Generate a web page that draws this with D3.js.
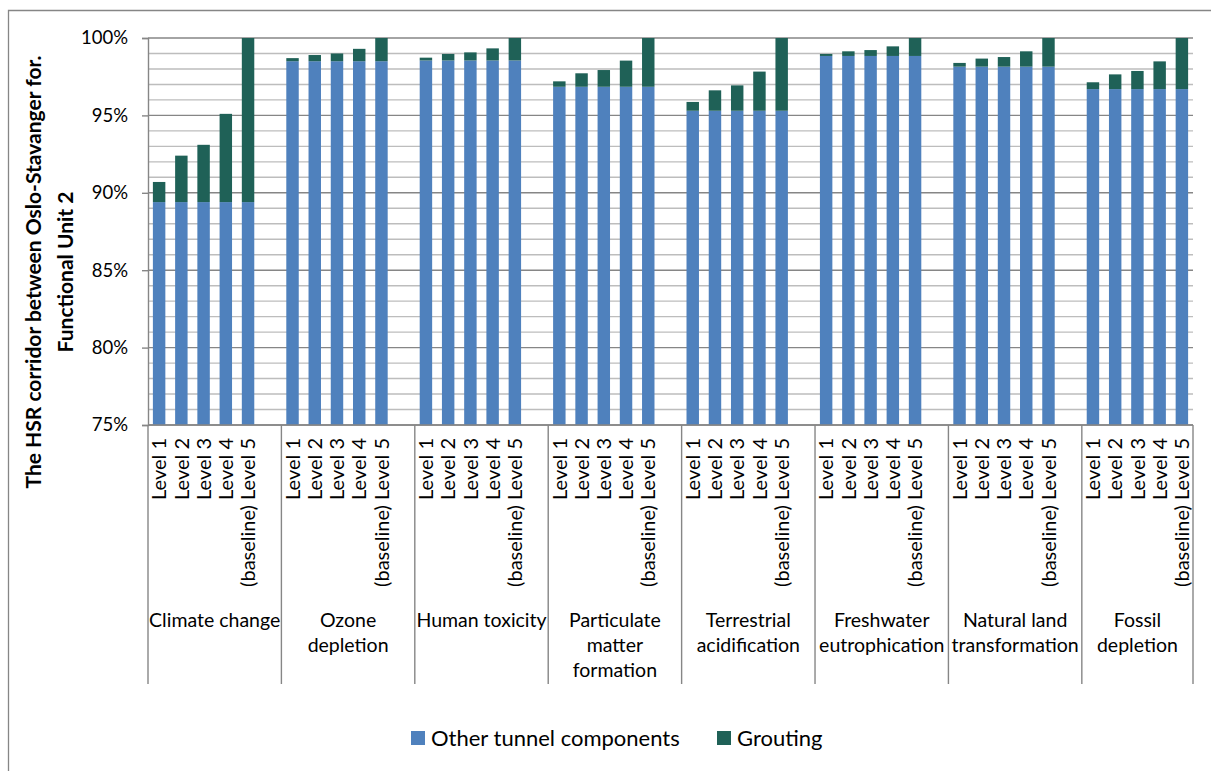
<!DOCTYPE html>
<html>
<head>
<meta charset="utf-8">
<script src="https://cdn.jsdelivr.net/npm/d3@7"></script>
<style>
  html, body { margin: 0; padding: 0; background: #fff; }
  svg { display: block; font-family: Lato, "Open Sans", sans-serif; }
</style>
</head>
<body>
<svg id="chart" width="1211" height="771"></svg>
<script>
// ---- Data ----
const categories = [
  ["Climate change"],
  ["Ozone", "depletion"],
  ["Human toxicity"],
  ["Particulate", "matter", "formation"],
  ["Terrestrial", "acidification"],
  ["Freshwater", "eutrophication"],
  ["Natural land", "transformation"],
  ["Fossil", "depletion"]
];
const levels = ["Level 1", "Level 2", "Level 3", "Level 4", "(baseline) Level 5"];
const seriesNames = ["Other tunnel components", "Grouting"];
// share (%) of other tunnel components, per category and level
const otherValues = [
  [89.4, 89.4, 89.4, 89.4, 89.4],
  [98.5, 98.5, 98.5, 98.5, 98.5],
  [98.55, 98.55, 98.55, 98.55, 98.55],
  [96.85, 96.85, 96.85, 96.85, 96.85],
  [95.3, 95.3, 95.3, 95.3, 95.3],
  [98.84, 98.84, 98.84, 98.84, 98.84],
  [98.15, 98.15, 98.15, 98.15, 98.15],
  [96.7, 96.7, 96.7, 96.7, 96.7]
];
// share (%) of grouting, per category and level
const groutingValues = [
  [1.3, 3.0, 3.7, 5.7, 10.6],
  [0.2, 0.4, 0.5, 0.8, 1.5],
  [0.18, 0.42, 0.52, 0.78, 1.45],
  [0.35, 0.87, 1.08, 1.69, 3.15],
  [0.57, 1.32, 1.64, 2.53, 4.7],
  [0.13, 0.30, 0.38, 0.62, 1.16],
  [0.24, 0.52, 0.62, 0.99, 1.85],
  [0.44, 0.95, 1.17, 1.79, 3.3]
];
const yTicks = [75, 80, 85, 90, 95, 100];
const yTitle = ["The HSR corridor between Oslo-Stavanger for.", "Functional Unit 2"];
const colors = ["#4f81bd", "#1f6157"];

// ---- Layout ----
const svg = d3.select("#chart");
const plot = { left: 148, right: 1193, top: 38, bottom: 425 };
const slotsPerGroup = levels.length + 1;
const nSlots = categories.length * slotsPerGroup - 1;

// build table rows
const rows = [];
categories.forEach((c, g) => {
  levels.forEach((lv, l) => {
    rows.push({ slot: g * slotsPerGroup + l, group: g, level: lv,
      other: otherValues[g][l], grouting: groutingValues[g][l] });
  });
});

const x = d3.scaleBand()
  .domain(d3.range(nSlots))
  .range([plot.left, plot.right])
  .paddingInner(0.44).paddingOuter(0.22);
const y = d3.scaleLinear().domain([75, 100]).range([plot.bottom, plot.top]).clamp(true);
const cellLeft = i => x(i) - x.step() * x.paddingInner() / 2;

// chart border (top and left visible)
svg.append("path")
  .attr("d", `M8.5,771 V10.5 H1211`)
  .attr("fill", "none").attr("stroke", "#868686").attr("stroke-width", 1.3);

// gridlines
const minor = d3.range(76, 101).filter(v => v % 5 !== 0);
svg.append("g").selectAll("line").data(minor).join("line")
  .attr("x1", plot.left).attr("x2", plot.right)
  .attr("y1", d => y(d)).attr("y2", d => y(d))
  .attr("stroke", "#bdbdbd").attr("stroke-width", 1.4);
svg.append("g").selectAll("line").data(yTicks).join("line")
  .attr("x1", plot.left).attr("x2", plot.right)
  .attr("y1", d => y(d)).attr("y2", d => y(d))
  .attr("stroke", "#868686").attr("stroke-width", 1.4);

// stacked bars
const stack = d3.stack().keys(["other", "grouting"]);
const stacked = stack(rows);
svg.append("g").selectAll("g").data(stacked).join("g")
  .attr("fill", (d, i) => colors[i])
  .selectAll("rect").data(d => d).join("rect")
  .attr("x", d => x(d.data.slot))
  .attr("width", x.bandwidth())
  .attr("y", d => y(d[1]))
  .attr("height", d => y(d[0]) - y(d[1]));

// y axis
const yAxis = d3.axisLeft(y).tickValues(yTicks).tickSize(6).tickPadding(14)
  .tickFormat(d => d + "%");
const ya = svg.append("g").attr("transform", `translate(${plot.left},0)`).call(yAxis);
ya.select(".domain").attr("stroke", "#868686").attr("stroke-width", 1.4);
ya.selectAll(".tick line").attr("stroke", "#868686").attr("stroke-width", 1.4);
ya.selectAll(".tick text").attr("font-size", 18.5).attr("fill", "#000")
  .attr("font-family", "Lato, sans-serif");

// x axis baseline
svg.append("line").attr("x1", plot.left).attr("x2", plot.right)
  .attr("y1", plot.bottom).attr("y2", plot.bottom)
  .attr("stroke", "#868686").attr("stroke-width", 1.4);

// group separators
const sepX = categories.map((c, g) => cellLeft(g * slotsPerGroup)).concat([plot.right]);
svg.append("g").selectAll("line").data(sepX).join("line")
  .attr("x1", d => d).attr("x2", d => d)
  .attr("y1", plot.bottom).attr("y2", 684)
  .attr("stroke", "#868686").attr("stroke-width", 1.4);

// level labels (rotated)
svg.append("g").selectAll("text").data(rows).join("text")
  .attr("transform", d => `translate(${x(d.slot) + x.bandwidth() / 2},438) rotate(-90)`)
  .attr("text-anchor", "end").attr("dy", "0.36em")
  .attr("font-size", 20).attr("fill", "#000")
  .text(d => d.level);

// group labels
categories.forEach((lines, g) => {
  const cx = (sepX[g] + sepX[g + 1]) / 2;
  const t = svg.append("text").attr("text-anchor", "middle")
    .attr("font-size", 19.5).attr("fill", "#000");
  lines.forEach((ln, i) => {
    t.append("tspan").attr("x", cx).attr("y", 627 + i * 25).text(ln);
  });
});

// y title
const yt = svg.append("text")
  .attr("transform", "translate(0,272) rotate(-90)")
  .attr("text-anchor", "middle").attr("font-weight", "bold")
  .attr("font-size", 21).attr("fill", "#000");
yTitle.forEach((ln, i) => {
  yt.append("tspan").attr("x", 0).attr("y", 41 + i * 32).text(ln);
});

// legend
const legendItems = [{ name: seriesNames[0], x: 411 }, { name: seriesNames[1], x: 717 }];
const lg = svg.append("g").selectAll("g").data(legendItems).join("g")
  .attr("transform", d => `translate(${d.x},731)`);
lg.append("rect").attr("width", 14).attr("height", 14)
  .attr("fill", (d, i) => colors[i]);
lg.append("text").attr("x", 20).attr("y", 15)
  .attr("font-size", 22).attr("fill", "#000")
  .text(d => d.name);
</script>
</body>
</html>
